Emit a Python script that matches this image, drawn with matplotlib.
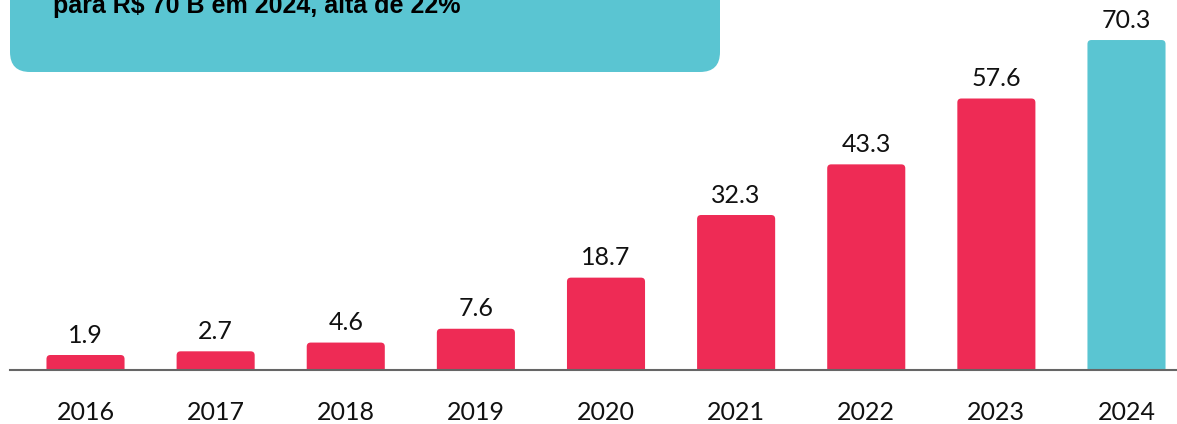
import matplotlib.pyplot as plt
from matplotlib.patches import FancyBboxPatch

# data
years = ['2016', '2017', '2018', '2019', '2020', '2021', '2022', '2023', '2024']
values = [1.9, 2.7, 4.6, 7.6, 18.7, 32.3, 43.3, 57.6, 70.3]
title_line = 'para R$ 70 B em 2024, alta de 22%'

red = '#EE2B55'
teal = '#5AC5D2'

plt.rcParams['font.family'] = ['Lato', 'DejaVu Sans']

fig = plt.figure(figsize=(11.77, 4.24), dpi=100)
ax = fig.add_axes([0, 54 / 424, 1, 370 / 424])

x_px, y_px = 130.1, 4.605  # pixels per data unit
y0 = -1.357                # zero sits a little below the axis line
r = 4  # corner radius in px
for i, v in enumerate(values):
    color = teal if i == len(values) - 1 else red
    bar = FancyBboxPatch((i - 0.3, -4), 0.6, v + 4,
                         boxstyle='round,pad=0,rounding_size=%f' % (r / x_px),
                         mutation_aspect=(r / y_px) / (r / x_px),
                         fc=color, ec='none', clip_on=True)
    ax.add_patch(bar)
    ax.annotate('%.1f' % v, (i, v), xytext=(0, 6), textcoords='offset points',
                ha='center', va='bottom', fontsize=18, color='#111111')

ax.set_xlim(-85.5 / x_px, 8 + 50.5 / x_px)
ax.set_ylim(y0, y0 + 370 / y_px)
ax.set_xticks(range(len(years)))
ax.set_xticklabels(years, fontsize=18, color='#111111')
ax.tick_params(axis='x', length=0, pad=22)
ax.set_yticks([])
for s in ['top', 'right', 'left']:
    ax.spines[s].set_visible(False)
ax.spines['bottom'].set_color('#666666')
ax.spines['bottom'].set_linewidth(1.5)
ax.spines['bottom'].set_bounds((10 - 85.5) / x_px, 8 + 50.5 / x_px)
ax.patch.set_alpha(0)

# teal heading box, cut at the top of the image
box = FancyBboxPatch((10 / 1177, 352 / 424), 710 / 1177, 0.4,
                     boxstyle='round,pad=0,rounding_size=%f' % (20 / 1177),
                     mutation_aspect=1177 / 424,
                     transform=fig.transFigure, fc=teal, ec='none', zorder=0)
fig.patches.append(box)
fig.text(53 / 1177, (424 - 13) / 424, title_line, fontsize=18, fontweight='bold',
         family=['Liberation Sans', 'DejaVu Sans'],
         color='black', ha='left', va='baseline')

fig.savefig('out.png', dpi=100)
